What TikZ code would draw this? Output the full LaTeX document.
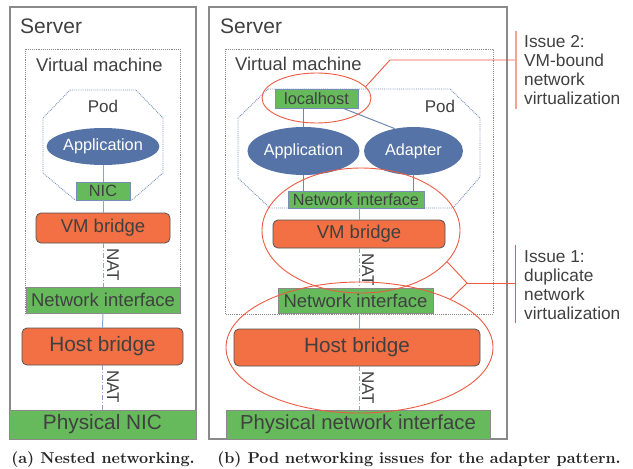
\documentclass[tikz,border=0pt]{standalone}
\usepackage{fontspec}
\newfontfamily\arf{Liberation Sans}
\newfontfamily\capfont{lmroman10-bold.otf}
\usetikzlibrary{shapes.geometric}
\definecolor{txt}{HTML}{404040}
\definecolor{grn}{HTML}{66BA5C}
\definecolor{org}{HTML}{F27044}
\definecolor{blu}{HTML}{5573A6}
\definecolor{lblu}{HTML}{8AA3CF}
\definecolor{gbord}{HTML}{8A8A8A}
\definecolor{redc}{HTML}{EC5A42}
\definecolor{salm}{HTML}{F4A291}
\newcommand{\fsz}[1]{\fontsize{#1}{#1}\selectfont}
\tikzset{
  lbl/.style={text=txt, inner sep=0pt},
  greenbox/.style={draw=blu!80, fill=grn, text=txt, inner sep=0pt, line width=0.8pt},
  greenbig/.style={draw=gbord, fill=grn, text=txt, inner sep=0pt, line width=0.8pt},
  orangebox/.style={draw=txt!90, fill=org, text=txt, rounded corners=5pt, inner sep=0pt, line width=0.8pt},
  appell/.style={ellipse, fill=blu, text=white, inner sep=0pt},
  serverbox/.style={draw=gbord, line width=1.2pt},
  vmbox/.style={draw=gbord, densely dotted, line width=0.9pt},
  podline/.style={draw=blu!80, densely dotted, line width=0.9pt},
  conn/.style={draw=lblu, line width=1pt},
  natline/.style={draw=lblu, line width=1pt, dash pattern=on 5pt off 2pt on 1pt off 2pt},
  issell/.style={ellipse, draw=redc, line width=0.9pt, inner sep=0pt},
  issline/.style={draw=redc, line width=0.9pt},
  issbar/.style={draw=salm, line width=1.6pt},
  isstext/.style={text=txt, align=left, inner sep=0pt, font=\arf\fontsize{17.3}{19}\selectfont},
  natlbl/.style={text=txt, inner sep=0pt, rotate=-90, font=\arf\fsz{17}},
  captext/.style={text=black!85, inner sep=0pt, font=\capfont\fsz{15.8}}
}
\begin{document}
\begin{tikzpicture}[x=1pt,y=-1pt]
\useasboundingbox (0,0) rectangle (633,469);
% ---------- panel (a) ----------
\draw[serverbox] (10,7) rectangle (196,439);
\node[lbl, anchor=west, font=\arf\fsz{21}] (srvA) at (20,26) {Server};
\draw[vmbox] (25,49) rectangle (180,313);
\node[lbl, anchor=west, font=\arf\fsz{18.4}] (vmA) at (36,65) {Virtual machine};
\draw[podline] (70,90) -- (136,90) -- (163,118) -- (163,173) -- (132,200) -- (75,200) -- (43,173) -- (43,118) -- cycle;
\node[lbl, font=\arf\fsz{17}] (podA) at (103,106) {Pod};
\node[appell, minimum width=100pt, minimum height=37pt, font=\arf\fsz{16.3}] (appA) at (103,146.5) {Application};
\node[greenbox, minimum width=54pt, minimum height=18pt, font=\arf\fsz{16.3}] (nicA) at (103,191) {NIC};
\node[orangebox, minimum width=134pt, minimum height=30pt, font=\arf\fsz{18.5}] (vmbA) at (103,228) {VM bridge};
\node[greenbig, minimum width=154pt, minimum height=26pt, font=\arf\fsz{18.5}] (niA) at (103,300) {Network interface};
\node[orangebox, minimum width=161pt, minimum height=37pt, font=\arf\fsz{20.8}] (hbA) at (102.5,346.5) {Host bridge};
\node[greenbig, minimum width=187pt, minimum height=29pt, font=\arf\fsz{20.8}] (pnA) at (102.5,424.5) {Physical NIC};
\draw[conn] (appA.south) -- (nicA.north);
\draw[conn] (nicA.south) -- (vmbA.north);
\draw[natline] (vmbA.south) -- (niA.north);
\node[natlbl] (natA1) at (113,265) {NAT};
\draw[conn] (niA.south) -- (hbA.north);
\draw[natline] (hbA.south) -- (pnA.north);
\node[natlbl] (natA2) at (113,387) {NAT};
\node[captext] (capA) at (103,460) {(a) Nested networking.};
% ---------- panel (b) ----------
\draw[serverbox] (209,7) rectangle (507,439);
\node[lbl, anchor=west, font=\arf\fsz{21}] (srvB) at (220,26) {Server};
\draw[vmbox] (225,49) rectangle (493,314);
\node[lbl, anchor=west, font=\arf\fsz{18.4}] (vmB) at (235,64) {Virtual machine};
\draw[podline] (268,89) -- (450,89) -- (480,118) -- (480,177) -- (453,208) -- (270,208) -- (238,178) -- (238,118) -- cycle;
\node[lbl, font=\arf\fsz{17}] (podB) at (440,106) {Pod};
\node[greenbox, minimum width=83pt, minimum height=19pt, font=\arf\fsz{16.4}] (lh) at (316.5,98.5) {localhost};
\node[appell, minimum width=99pt, minimum height=48pt, font=\arf\fsz{16.2}] (appB) at (303.5,151) {Application};
\node[appell, minimum width=99pt, minimum height=48pt, font=\arf\fsz{16.2}] (adB) at (413.5,151) {Adapter};
\node[greenbox, minimum width=136pt, minimum height=17pt, font=\arf\fsz{16.2}] (niP) at (356,199.5) {Network interface};
\node[orangebox, minimum width=172pt, minimum height=28pt, font=\arf\fsz{18.5}] (vmbB) at (359,234) {VM bridge};
\node[greenbig, minimum width=155pt, minimum height=25pt, font=\arf\fsz{18.5}] (niB) at (355.5,300.5) {Network interface};
\node[orangebox, minimum width=246pt, minimum height=37pt, font=\arf\fsz{20.7}] (hbB) at (357,347.5) {Host bridge};
\node[greenbig, minimum width=264pt, minimum height=29pt, font=\arf\fsz{20.3}] (pnB) at (358,424.5) {Physical network interface};
\draw[conn, draw=blu!85] (lh.south -| appB.north) -- (appB.north);
\draw[conn, draw=blu!85] (lh.south east) ++(-15,0) coordinate (lhx) (lhx) -- (adB.130);
\draw[conn, draw=blu!85] (appB.south) -- (appB.south |- niP.north);
\draw[conn, draw=blu!85] (adB.south) -- (adB.south |- niP.north);
\draw[conn] (vmbB.north |- niP.south) -- (vmbB.north);
\draw[natline] (vmbB.south) -- (vmbB.south |- niB.north);
\node[natlbl] (natB1) at (368,270) {NAT};
\draw[conn] (niB.south -| vmbB.south) -- (hbB.north -| vmbB.south);
\draw[natline] (hbB.south -| vmbB.south) -- (pnB.north -| vmbB.south);
\node[natlbl] (natB2) at (368,388) {NAT};
% issues
\node[issell, minimum width=109pt, minimum height=50pt] (iss2) at (316.5,98) {};
\node[issell, minimum width=198pt, minimum height=125pt] (e1) at (361,230.5) {};
\node[issell, minimum width=267pt, minimum height=131pt] (e2) at (359.5,347.5) {};
\coordinate (k2) at (390,60);
\coordinate (b2) at (516,60);
\draw[issline] (iss2.13) -- (k2) -- (b2);
\coordinate (b2t) at (516,31);
\coordinate (b2b) at (516,109);
\draw[issbar] (b2t) -- (b2b);
\node[isstext, anchor=west] (t2) at (524,70.5) {Issue 2:\\VM-bound\\network\\virtualization};
\coordinate (k1) at (467,283);
\coordinate (b1) at (515,283);
\draw[issline] (e1.-20) -- (k1) -- (e2.28);
\draw[issline] (k1) -- (b1);
\coordinate (b1t) at (515,245);
\coordinate (b1b) at (515,323);
\draw[issline] (b1t) -- (b1b);
\node[isstext, anchor=west] (t1) at (524,285) {Issue 1:\\duplicate\\network\\virtualization};
\node[captext] (capB) at (419,460) {(b) Pod networking issues for the adapter pattern.};
\end{tikzpicture}
\end{document}
